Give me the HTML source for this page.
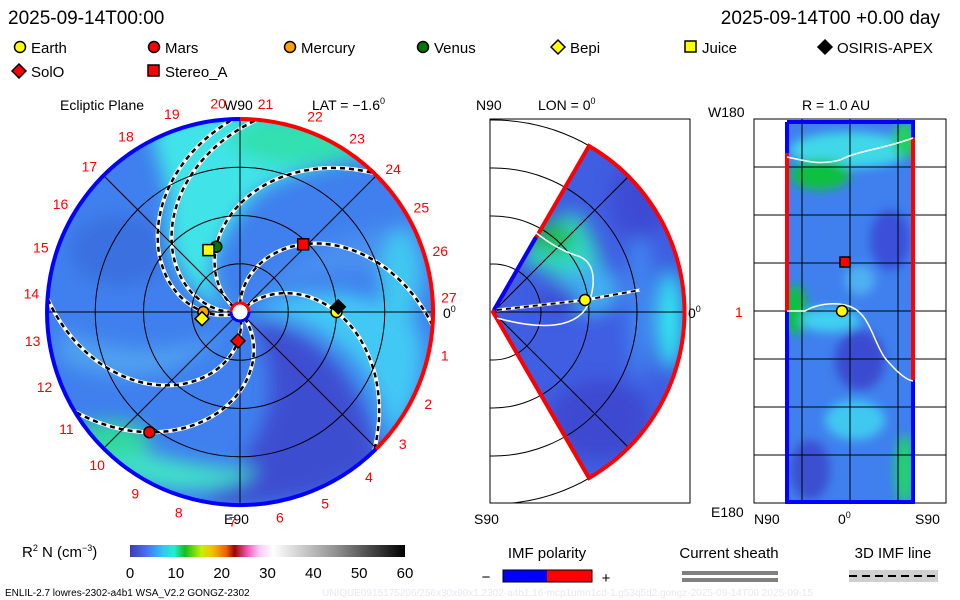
<!DOCTYPE html>
<html><head><meta charset="utf-8">
<style>
html,body{margin:0;padding:0;background:#fff;}
svg{display:block;font-family:"Liberation Sans",sans-serif;}
</style></head>
<body>
<svg id="chart" width="960" height="600" viewBox="0 0 960 600" xmlns="http://www.w3.org/2000/svg">
<defs>
<filter id="blur8" x="-50%" y="-50%" width="200%" height="200%"><feGaussianBlur stdDeviation="9"/></filter>
<filter id="blur5" x="-50%" y="-50%" width="200%" height="200%"><feGaussianBlur stdDeviation="5"/></filter>
<clipPath id="discClip"><circle cx="240" cy="312" r="193"/></clipPath>
<clipPath id="wedgeClip"><path d="M493,312 L589,146 A192,192 0 0 1 589,478 Z"/></clipPath>
<clipPath id="rectClip"><rect x="785" y="122" width="128" height="380"/></clipPath>
<clipPath id="midBox"><rect x="490" y="119" width="200" height="384"/></clipPath>
<linearGradient id="cbar" x1="0" x2="1" y1="0" y2="0">
<stop offset="0" stop-color="#3c3cb4"/><stop offset="0.06" stop-color="#4a6ef0"/><stop offset="0.12" stop-color="#30c8f0"/><stop offset="0.16" stop-color="#20f0d0"/><stop offset="0.2" stop-color="#10c020"/><stop offset="0.26" stop-color="#c8f000"/><stop offset="0.3" stop-color="#f0c000"/><stop offset="0.35" stop-color="#f06000"/><stop offset="0.38" stop-color="#a00000"/><stop offset="0.43" stop-color="#f060c0"/><stop offset="0.47" stop-color="#f8c8f8"/><stop offset="0.52" stop-color="#ffffff"/><stop offset="0.75" stop-color="#909090"/><stop offset="1" stop-color="#000000"/>
</linearGradient>
</defs>

<text x="8" y="24" font-size="19" fill="#000">2025-09-14T00:00</text>
<text x="940" y="24" font-size="19" fill="#000" text-anchor="end">2025-09-14T00 +0.00 day</text>

<g font-size="15">
<g><circle cx="20" cy="47" r="5.5" fill="#ffff00" stroke="#000" stroke-width="1.5"/><text x="31" y="53">Earth</text></g>
<g><circle cx="154" cy="47" r="5.5" fill="#ff0000" stroke="#000" stroke-width="1.5"/><text x="165" y="53">Mars</text></g>
<g><circle cx="290" cy="47" r="5.5" fill="#ffa000" stroke="#000" stroke-width="1.5"/><text x="301" y="53">Mercury</text></g>
<g><circle cx="423" cy="47" r="5.5" fill="#007800" stroke="#000" stroke-width="1.5"/><text x="434" y="53">Venus</text></g>
<g><path d="M558,40 L565,47 L558,54 L551,47 Z" fill="#ffff00" stroke="#000" stroke-width="1.5"/><text x="570" y="53">Bepi</text></g>
<g><rect x="685" y="41" width="11" height="11" fill="#ffff00" stroke="#000" stroke-width="1.5"/><text x="702" y="53">Juice</text></g>
<g><path d="M825,40 L832,47 L825,54 L818,47 Z" fill="#000" stroke="#000" stroke-width="1.5"/><text x="837" y="53">OSIRIS-APEX</text></g>
<g><path d="M19,64 L26,71 L19,78 L12,71 Z" fill="#ff0000" stroke="#000" stroke-width="1.5"/><text x="31" y="77">SolO</text></g>
<g><rect x="148" y="65" width="11" height="11" fill="#ff0000" stroke="#000" stroke-width="1.5"/><text x="165" y="77">Stereo_A</text></g>
</g>

<g id="ecliptic">
<text x="60" y="110" font-size="14">Ecliptic Plane</text>
<text x="312" y="110" font-size="14">LAT = −1.6<tspan font-size="9" dy="-6">0</tspan></text>
<text x="224" y="110" font-size="14">W90</text>
<text x="224" y="524" font-size="14">E90</text>
<text x="443" y="318" font-size="14">0<tspan font-size="9" dy="-6">0</tspan></text>
<g clip-path="url(#discClip)">
<circle cx="240" cy="312" r="193" fill="#3f80ee"/>
<g filter="url(#blur8)">
<path d="M150,130 C200,100 300,100 380,150 C330,170 280,170 250,200 C210,250 200,280 230,310 C190,300 160,250 170,200 Z" fill="#40e4e8"/>
<ellipse cx="300" cy="140" rx="70" ry="25" fill="#30e0b0"/>
<path d="M250,310 C320,280 380,290 420,330 C430,380 410,420 390,440 C380,380 340,320 250,310 Z" fill="#42c8f4"/>
<path d="M250,320 C320,330 360,380 380,460 C340,500 260,510 200,500 C250,460 300,400 250,320 Z" fill="#3d4ed0"/>
<path d="M70,420 C120,450 200,470 260,470 C220,500 120,500 70,440 Z" fill="#40e0c8"/>
<ellipse cx="110" cy="440" rx="40" ry="18" fill="#30d8a0"/>
<path d="M250,300 C300,250 350,230 420,220 C430,250 430,270 430,290 C370,260 310,270 250,300 Z" fill="#4890f0"/>
<ellipse cx="400" cy="280" rx="20" ry="50" fill="#40c8f0"/>
<path d="M60,330 C110,350 160,360 230,330 C180,380 120,390 60,360 Z" fill="#50a0f0"/>
<ellipse cx="120" cy="250" rx="50" ry="35" fill="#3a70e0"/>
</g>
<g id="spirals"></g>
</g>
<g id="eclGrid" fill="none" stroke="#000" stroke-width="1"></g>
<path d="M240,119 A193,193 0 0 1 376,449" fill="none" stroke="#ff0000" stroke-width="4"/>
<path d="M376,449 A193,193 0 1 1 240,119" fill="none" stroke="#0000ff" stroke-width="4"/>
<path d="M231,312 A9,9 0 0 1 249,312" fill="#fff" stroke="#ff0000" stroke-width="3"/>
<path d="M249,312 A9,9 0 0 1 231,312" fill="#fff" stroke="#0000ff" stroke-width="3"/>
<g id="carrLabels" font-size="14" fill="#ff0000"></g>
<g id="bodies"></g>
</g>

<g>
<text x="476" y="110" font-size="14">N90</text>
<text x="538" y="110" font-size="14">LON = 0<tspan font-size="9" dy="-6">0</tspan></text>
<text x="474" y="524" font-size="14">S90</text>
<text x="688" y="318" font-size="14">0<tspan font-size="9" dy="-6">0</tspan></text>
<rect x="490" y="119" width="200" height="384" fill="none" stroke="#000"/>
<g clip-path="url(#wedgeClip)">
<rect x="480" y="130" width="220" height="360" fill="#3f5ee2"/>
<g filter="url(#blur8)">
<path d="M520,260 C540,220 570,210 580,215 C600,250 610,280 600,300 C570,280 540,270 520,260 Z" fill="#30d8c0"/>
<ellipse cx="553" cy="238" rx="22" ry="14" fill="#20b840"/>
<ellipse cx="670" cy="320" rx="12" ry="50" fill="#30f0f0"/>
<ellipse cx="640" cy="300" rx="12" ry="80" fill="#4088f0"/>
<ellipse cx="590" cy="290" rx="30" ry="25" fill="#40b0f0"/>
<ellipse cx="560" cy="300" rx="20" ry="12" fill="#3c48d0"/>
<ellipse cx="600" cy="420" rx="50" ry="40" fill="#3c48d0"/>
<ellipse cx="640" cy="200" rx="30" ry="40" fill="#3c4cd4"/>
</g>
</g>
<g id="merGrid" clip-path="url(#midBox)" fill="none" stroke="#000" stroke-width="1"></g>
<path d="M493,312 L589,146 A192,192 0 0 1 589,478 Z" fill="none" stroke="#ff0000" stroke-width="4"/>
<path d="M494,310 L536,237" stroke="#0000ff" stroke-width="4"/>
<path d="M497,318 C540,330 580,330 590,300 C596,280 595,260 575,255 C560,250 545,240 535,232" fill="none" stroke="#fff" stroke-width="1.5"/>
<path d="M497,310 L585,300 L640,290" fill="none" stroke="#fff" stroke-width="3"/>
<path d="M497,310 L585,300 L640,290" fill="none" stroke="#000" stroke-width="2" stroke-dasharray="5,4"/>
<circle cx="585" cy="300" r="5.5" fill="#ffff00" stroke="#000" stroke-width="1.5"/>
</g>

<g>
<text x="802" y="110" font-size="14">R = 1.0 AU</text>
<text x="708" y="117" font-size="14">W180</text>
<text x="711" y="517" font-size="14">E180</text>
<text x="754" y="524" font-size="14">N90</text>
<text x="838" y="524" font-size="14">0<tspan font-size="9" dy="-6">0</tspan></text>
<text x="915" y="524" font-size="14">S90</text>
<text x="735" y="317" font-size="14" fill="#ff0000">1</text>
<rect x="754" y="119" width="192" height="384" fill="none" stroke="#000"/>
<g clip-path="url(#rectClip)">
<rect x="780" y="118" width="140" height="390" fill="#3f80ee"/>
<g filter="url(#blur5)">
<ellipse cx="850" cy="150" rx="60" ry="18" fill="#40d8e8"/>
<ellipse cx="820" cy="175" rx="30" ry="15" fill="#10c040"/>
<ellipse cx="905" cy="140" rx="12" ry="18" fill="#20d060"/>
<ellipse cx="795" cy="310" rx="12" ry="25" fill="#10c040"/>
<ellipse cx="830" cy="320" rx="30" ry="12" fill="#40d0f0"/>
<ellipse cx="860" cy="280" rx="15" ry="15" fill="#50b0f0"/>
<ellipse cx="860" cy="360" rx="25" ry="30" fill="#3a4cd0"/>
<ellipse cx="890" cy="240" rx="20" ry="30" fill="#3a50d8"/>
<ellipse cx="855" cy="420" rx="30" ry="20" fill="#40c8f0"/>
<ellipse cx="905" cy="470" rx="10" ry="35" fill="#20d070"/>
<ellipse cx="810" cy="470" rx="20" ry="30" fill="#3a50d0"/>
</g>
</g>
<g id="rectGrid" stroke="#000" stroke-width="1"></g>
<path d="M787,153 L787,311 M913,137 L913,380" stroke="#ff0000" stroke-width="4"/>
<path d="M787,122 L913,122 L913,137 M913,380 L913,502 L787,502 L787,311 M787,153 L787,122" fill="none" stroke="#0000ff" stroke-width="4"/>
<path d="M787,157 C810,162 820,165 840,160 C860,150 880,150 913,138" fill="none" stroke="#fff" stroke-width="1.5"/>
<path d="M787,311 L805,311 C815,305 830,302 845,305 C870,310 872,340 885,358 C895,370 905,380 913,381" fill="none" stroke="#fff" stroke-width="1.5"/>
<rect x="840" y="257" width="10" height="10" fill="#ff0000" stroke="#000" stroke-width="1.5"/>
<circle cx="842" cy="311" r="5.5" fill="#ffff00" stroke="#000" stroke-width="1.5"/>
</g>

<g>
<text x="22" y="557" font-size="15">R<tspan font-size="9" dy="-6">2</tspan><tspan dy="6"> N (cm</tspan><tspan font-size="9" dy="-6">−3</tspan><tspan dy="6">)</tspan></text>
<rect x="130" y="545" width="275" height="12" fill="url(#cbar)"/>
<g id="cbTicks" font-size="15" text-anchor="middle"></g>
</g>

<g>
<text x="547" y="558" font-size="15" text-anchor="middle">IMF polarity</text>
<text x="486" y="582" font-size="15" text-anchor="middle">−</text>
<rect x="503" y="570" width="44" height="12" fill="#0000ff"/>
<rect x="547" y="570" width="45" height="12" fill="#ff0000"/>
<rect x="503" y="570" width="89" height="12" fill="none" stroke="#000"/>
<text x="606" y="583" font-size="15" text-anchor="middle">+</text>
</g>
<g>
<text x="729" y="558" font-size="15" text-anchor="middle">Current sheath</text>
<rect x="682" y="571" width="96" height="4" fill="#808080"/>
<rect x="682" y="578" width="96" height="4" fill="#808080"/>
</g>
<g>
<text x="893" y="558" font-size="15" text-anchor="middle">3D IMF line</text>
<rect x="849" y="570" width="89" height="12" fill="#d0d0d0"/>
<line x1="849" y1="576" x2="938" y2="576" stroke="#000" stroke-width="2" stroke-dasharray="8,5"/>
</g>

<text x="5" y="596" font-size="10">ENLIL-2.7 lowres-2302-a4b1 WSA_V2.2 GONGZ-2302</text>
<text x="322" y="596" font-size="10" fill="#e8e8f0">UNIQUE0915175206/256x30x90x1.2302-a4b1.16-mcp1umn1cd-1.g53q5d2.gongz-2025-09-14T00   2025-09-15</text>
</svg>

<script>
// ---- Data ----
const bodyNames = ["Earth","OSIRIS-APEX","Mercury","Bepi","Venus","Juice","Mars","Stereo_A","SolO"];
const bodyR = [1.0, 1.02, 0.38, 0.40, 0.72, 0.72, 1.56, 0.96, 0.30];       // AU
const bodyLon = [0, 3, 180, 190, 110, 117, 233, 47, 266];                 // deg
const bodyShape = ["circle","diamond","circle","diamond","circle","square","circle","square","diamond"];
const bodyColor = ["#ffff00","#000000","#ffa000","#ffff00","#007800","#ffff00","#ff0000","#ff0000","#ff0000"];
const spiralStarts = [46, 94, 146, 185, 200, 282, 311];   // footpoint longitude, deg
const spiralRates = [46, 49, 50, 50, 54, 53, 50];        // deg per AU
const carrLabels = ["19","20","21","22","23","24","25","26","27","1","2","3","4","5","6","7","8","9","10","11","12","13","14","15","16","17","18"];
const carrAngles = [109,96,83,69,56,43,30,17,4,-12,-26,-39,-52,-66,-79,-92,-107,-120,-133,-146,-159,-172,175,162,149,136,123];
const cbTickValues = [0,10,20,30,40,50,60];

const cx=240, cy=312, auPx=96.5;
const NS="http://www.w3.org/2000/svg";
function mk(tag, attrs, parent){const e=document.createElementNS(NS,tag);for(const k in attrs)e.setAttribute(k,attrs[k]);parent.appendChild(e);return e;}
function px(r,lonDeg){const a=lonDeg*Math.PI/180;return [cx+r*auPx*Math.cos(a), cy-r*auPx*Math.sin(a)];}

const g=document.getElementById('eclGrid');
[0.5,1,1.5].forEach(r=>{const c=mk('circle',{cx:cx,cy:cy,r:r*auPx},g);

});
[0,45,90,135].forEach(a=>{const p1=px(2,a),p2=px(2,a+180);const l=mk('line',{x1:p1[0],y1:p1[1],x2:p2[0],y2:p2[1]},g);

});

const sp=document.getElementById('spirals');
spiralStarts.forEach((s,k)=>{let d="";for(let i=0;i<=60;i++){const r=0.08+i*(1.95/60);const p=px(r,s-spiralRates[k]*r);d+=(i?"L":"M")+p[0].toFixed(1)+","+p[1].toFixed(1);}
const w=mk('path',{d:d,fill:"none",stroke:"#fff","stroke-width":4},sp);


const b=mk('path',{d:d,fill:"none",stroke:"#000","stroke-width":2.5,"stroke-dasharray":"5,4"},sp);

});

const cl=document.getElementById('carrLabels');
carrLabels.forEach((t,i)=>{const p=px(2.17,carrAngles[i]);const e=mk('text',{x:p[0],y:p[1]+5,"text-anchor":"middle"},cl);e.textContent=t;

});

const bg=document.getElementById('bodies');
bodyNames.forEach((n,i)=>{const p=px(bodyR[i],bodyLon[i]);let e;
if(bodyShape[i]==="circle")e=mk('circle',{cx:p[0],cy:p[1],r:5.5},bg);
else if(bodyShape[i]==="square")e=mk('rect',{x:p[0]-5.5,y:p[1]-5.5,width:11,height:11},bg);
else e=mk('path',{d:`M${p[0]},${p[1]-7} L${p[0]+7},${p[1]} L${p[0]},${p[1]+7} L${p[0]-7},${p[1]} Z`},bg);
e.setAttribute('fill',bodyColor[i]);e.setAttribute('stroke','#000');e.setAttribute('stroke-width','1.5');

});

const mg=document.getElementById('merGrid');
[48,96,144,192].forEach(r=>{const c=mk('circle',{cx:493,cy:312,r:r},mg);

});
[[0],[45],[-45]].forEach(a=>{const t=a[0]*Math.PI/180;const l=mk('line',{x1:493,y1:312,x2:493+192*Math.cos(t),y2:312-192*Math.sin(t)},mg);

});

const rg=document.getElementById('rectGrid');
[167,215,263,311,359,407,455].forEach(y=>{const l=mk('line',{x1:754,y1:y,x2:946,y2:y},rg);

});
[802,850,898].forEach(x=>{const l=mk('line',{x1:x,y1:119,x2:x,y2:503},rg);

});

const ct=document.getElementById('cbTicks');
cbTickValues.forEach(v=>{const x=130+v/60*275;const t=mk('text',{x:x,y:578},ct);t.textContent=v;

});
</script>
</body></html>
